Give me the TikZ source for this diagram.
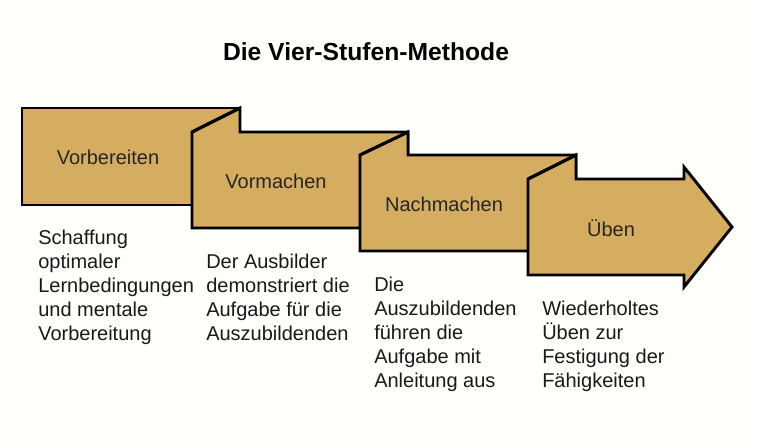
\documentclass[tikz,border=0pt]{standalone}
\usepackage{fontspec}
\setmainfont{Liberation Sans}
\begin{document}
\begin{tikzpicture}[x=0.75pt,y=-0.75pt,
  stage/.style={fill=fillc,draw=black,line width=2.2pt,line join=miter},
  lbl/.style={font=\fontsize{15}{18}\selectfont,text=black!85},
  desc/.style={font=\fontsize{15}{18}\selectfont,align=left,anchor=north west,inner sep=0pt,text=black!90}]
\definecolor{fillc}{HTML}{D5AD60}
\fill[white!99!yellow] (0,0) rectangle (757,444);
\useasboundingbox (0,0) rectangle (757,444);
\node[font=\bfseries\fontsize{18.5}{22}\selectfont] (title) at (366,52) {Die Vier-Stufen-Methode};
\draw[stage] (22,108) rectangle (240,205);
\draw[stage] (192,132) -- (240,108) -- (240,132) -- (408,132) -- (408,228) -- (192,228) -- cycle;
\draw[stage] (360,155) -- (408,132) -- (408,155) -- (576,155) -- (576,251) -- (360,251) -- cycle;
\draw[stage] (528,179) -- (576,155) -- (576,179) -- (684,179) -- (684,167) -- (732,227) -- (684,287) -- (684,275) -- (528,275) -- cycle;
\draw[line width=2.2pt] (192,132) -- (240,108);
\draw[line width=2.2pt] (360,155) -- (408,132);
\draw[line width=2.2pt] (528,179) -- (576,155);
\node[lbl] (s1) at (108,157) {Vorbereiten};
\node[lbl] (s2) at (276,181) {Vormachen};
\node[lbl] (s3) at (444,204) {Nachmachen};
\node[lbl] (s4) at (611,228) {Üben};
\node[desc] (d1) at (38,230) {Schaffung\\optimaler\\Lernbedingungen\\und mentale\\Vorbereitung};
\node[desc] (d2) at (206,254) {Der Ausbilder\\demonstriert die\\Aufgabe für die\\Auszubildenden};
\node[desc] (d3) at (374,277) {Die\\Auszubildenden\\führen die\\Aufgabe mit\\Anleitung aus};
\node[desc] (d4) at (542,301) {Wiederholtes\\Üben zur\\Festigung der\\Fähigkeiten};
\end{tikzpicture}
\end{document}
